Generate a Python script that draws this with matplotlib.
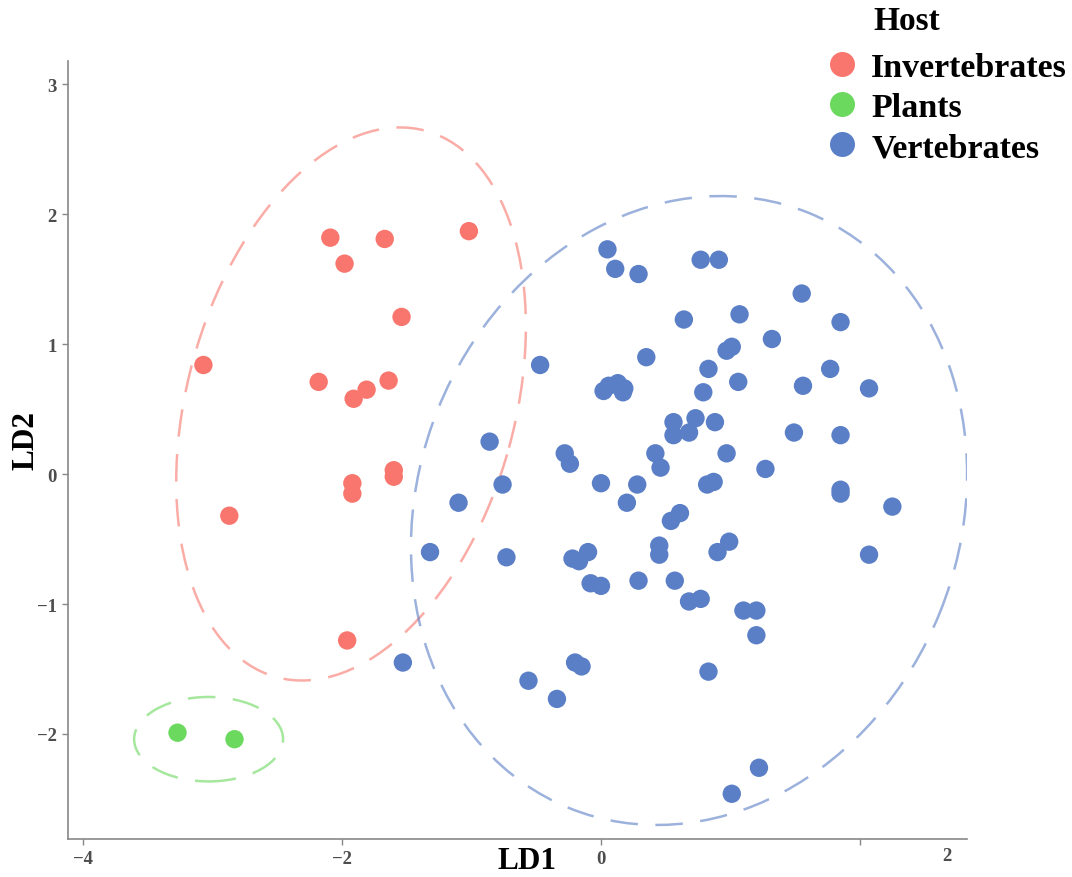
import matplotlib
matplotlib.use("Agg")
import matplotlib.pyplot as plt
from matplotlib.patches import Ellipse
from matplotlib.lines import Line2D

plt.rcParams['font.family'] = ['Liberation Serif', 'DejaVu Serif']

groups = ['Invertebrates', 'Plants', 'Vertebrates']
colors = ['#F8766D', '#6BD85E', '#5A7FC6']

inv_x = [-2.09, -1.98, -1.67, -1.02, -1.54, -3.07, -2.18, -1.91, -1.81, -1.64,
         -1.60, -1.60, -1.92, -1.92, -2.87, -1.96]
inv_y = [1.82, 1.62, 1.81, 1.87, 1.21, 0.84, 0.71, 0.58, 0.65, 0.72,
         0.03, -0.02, -0.07, -0.15, -0.32, -1.28]

pla_x = [-3.27, -2.83]
pla_y = [-1.99, -2.04]

ver_x = [0.05, 0.11, 0.29, 0.77, 0.91, 0.64, 1.07, 1.55, 1.85, 1.32,
         0.35, 1.01, 0.97, 0.83, 1.06, 1.77, 1.56, 2.07, -0.47, 0.02,
         0.06, 0.13, 0.18, 0.17, 0.79, 0.56, 0.73, 0.88, 0.56, 0.68,
         1.49, 1.85, -0.86, -0.28, -0.24, 0.42, 0.46, 0.97, 1.27, 0.00,
         0.28, 0.82, 0.87, -0.76, 1.85, 1.85, 2.25, -1.10, 0.20, 0.61,
         0.54, -1.32, -0.73, 0.45, 0.45, 0.90, 0.99, 2.07, -0.10, -0.22,
         -0.17, -0.08, 0.00, 0.29, 0.57, 0.68, 0.77, 1.10, 1.20, 1.20,
         -1.53, -0.20, -0.15, -0.56, -0.34, 0.83, 1.22, 1.01]
ver_y = [1.73, 1.58, 1.54, 1.65, 1.65, 1.19, 1.23, 1.39, 1.17, 1.04,
         0.90, 0.98, 0.95, 0.81, 0.71, 0.81, 0.68, 0.66, 0.84, 0.64,
         0.68, 0.70, 0.66, 0.63, 0.63, 0.40, 0.43, 0.40, 0.30, 0.32,
         0.32, 0.30, 0.25, 0.16, 0.08, 0.16, 0.05, 0.16, 0.04, -0.07,
         -0.08, -0.08, -0.06, -0.08, -0.12, -0.15, -0.25, -0.22, -0.22, -0.30,
         -0.36, -0.60, -0.64, -0.55, -0.62, -0.60, -0.52, -0.62, -0.60, -0.65,
         -0.67, -0.84, -0.86, -0.82, -0.82, -0.98, -0.96, -1.05, -1.05, -1.24,
         -1.45, -1.45, -1.48, -1.59, -1.73, -1.52, -2.26, -2.46]

# ellipse centre, full width, full height, angle (deg)
ell_center = [(-1.93, 0.54), (-3.03, -2.04), (0.68, -0.28)]
ell_width = [4.36, 1.15, 4.94]
ell_height = [2.53, 0.65, 4.18]
ell_angle = [74.6, 0.0, 68.0]

fig = plt.figure(figsize=(10.72, 8.78), dpi=100)
ax = fig.add_axes([0.0634, 0.0433, 0.8386, 0.8857])

xs = [inv_x, pla_x, ver_x]
ys = [inv_y, pla_y, ver_y]
for i in range(3):
    ax.scatter(xs[i], ys[i], s=175, color=colors[i], edgecolors='none', zorder=3)
    e = Ellipse(ell_center[i], ell_width[i], ell_height[i], angle=ell_angle[i],
                fill=False, edgecolor=colors[i], alpha=0.6, linewidth=1.8,
                linestyle=(0, (11, 7)), zorder=2)
    ax.add_patch(e)

ax.set_xlim(-4.116, 2.826)
ax.set_ylim(-2.808, 3.177)

ax.set_xticks([-4, -2, 0, 2], ['\u22124', '\u22122', '0', ''])
ax.set_xticks([2.67], ['2'], minor=True)
ax.tick_params(axis='x', which='minor', length=0, pad=6)
ax.set_yticks([-2, -1, 0, 1, 2, 3], ['\u22122', '\u22121', '0', '1', '2', '3'])
ax.tick_params(axis='both', which='major', length=4, width=1, color='#888888',
               labelcolor='#4D4D4D', labelsize=13, pad=4)
for lab in ax.get_xticklabels(which='both') + ax.get_yticklabels():
    lab.set_fontweight('bold')
    lab.set_color('#4D4D4D')
    lab.set_fontsize(13.5)

for s in ['top', 'right']:
    ax.spines[s].set_visible(False)
for s in ['left', 'bottom']:
    ax.spines[s].set_color('#888888')
    ax.spines[s].set_linewidth(1.2)

ax.set_xlabel('LD1', fontsize=22.5, fontweight='bold')
ax.xaxis.set_label_coords((527 - 68) / 899, -(862 - 840) / 778)
ax.xaxis.label.set_va('center')
ax.set_ylabel('LD2', fontsize=22.5, fontweight='bold')
ax.yaxis.set_label_coords(-(68 - 26) / 899, (840 - 440) / 778)
ax.yaxis.label.set_va('center')

handles = [Line2D([], [], marker='o', linestyle='none', markersize=18,
                  markerfacecolor=c, markeredgecolor='none') for c in colors]
fig.text(873 / 1072, 1 - 22 / 878, 'Host', fontsize=24, fontweight='bold',
         ha='left', va='center')
leg = fig.legend(handles, groups, loc='upper left',
                 bbox_to_anchor=(822 / 1072, 1 - 53 / 878), frameon=False,
                 prop={'size': 24.5, 'weight': 'bold'}, handletextpad=0.25,
                 labelspacing=0.27, handlelength=1.2, borderaxespad=0,
                 borderpad=0)

fig.savefig('out.png', dpi=100)
